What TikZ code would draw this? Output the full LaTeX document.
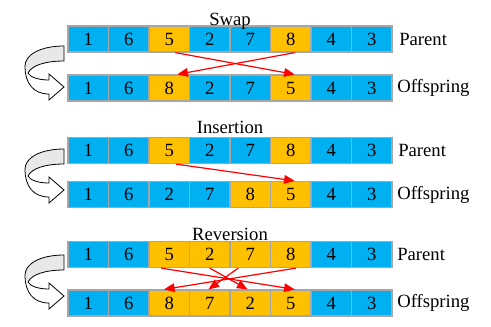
\documentclass[tikz,border=0pt]{standalone}
\usepackage{fontspec}
\setmainfont{Liberation Serif}
\usetikzlibrary{arrows.meta,positioning}
\definecolor{cellblue}{HTML}{00B0F0}
\definecolor{cellgold}{HTML}{FFC000}
\definecolor{cellline}{HTML}{A6A6A6}

\begin{document}
\begin{tikzpicture}[x=0.75pt,y=-0.75pt,
  cell/.style={draw=cellline,line width=0.9pt,minimum width=30.375pt,minimum height=19.5pt,
    inner sep=0pt,font=\rmfamily\fontsize{14}{16}\selectfont},
  lab/.style={inner sep=0pt,font=\rmfamily\fontsize{14}{16}\selectfont},
  mv/.style={red,line width=0.9pt,-{Triangle[length=8pt,width=6.5pt]}},
  ribbon/.pic={
    \fill[gray!18] (64,0) .. controls (40,0) and (25,9) .. (25,20)
      .. controls (25,23) and (26,25) .. (28,27)
      .. controls (32,19) and (46,15) .. (64,15) -- cycle;
    \draw[line width=0.6pt] (64,0) .. controls (40,0) and (25,9) .. (25,20)
      .. controls (25,37) and (33,48) .. (49,48) -- (49,54) -- (64,41) -- (49,28) -- (49,34)
      .. controls (38,34) and (30,31) .. (28,27)
      .. controls (32,19) and (46,15) .. (64,15) -- cycle;
  }]
\useasboundingbox (0,0) rectangle (491,326);

% swap
\foreach \v/\c [count=\i] in {1/cellblue,6/cellblue,5/cellgold,2/cellblue,7/cellblue,8/cellgold,4/cellblue,3/cellblue}
  \node[cell,fill=\c] (sp\i) at ({47.75+40.5*\i},39) {\v};
\foreach \v/\c [count=\i] in {1/cellblue,6/cellblue,8/cellgold,2/cellblue,7/cellblue,5/cellgold,4/cellblue,3/cellblue}
  \node[cell,fill=\c] (so\i) at ({47.75+40.5*\i},88) {\v};
\node[lab,anchor=base] (tsw) at (230,25) {Swap};
\node[lab,anchor=west] (lsp) at (399,39) {Parent};
\node[lab,anchor=west] (lso) at (397,88) {Offspring};
\draw[mv] ([xshift=4.5pt]sp3.south) -- ([xshift=3pt]so6.north);
\draw[mv] ([xshift=3pt]sp6.south) -- ([xshift=6pt]so3.north);
\pic at (0,46) {ribbon};

% insertion
\foreach \v/\c [count=\i] in {1/cellblue,6/cellblue,5/cellgold,2/cellblue,7/cellblue,8/cellgold,4/cellblue,3/cellblue}
  \node[cell,fill=\c] (ip\i) at ({47.75+40.5*\i},150.5) {\v};
\foreach \v/\c [count=\i] in {1/cellblue,6/cellblue,2/cellblue,7/cellblue,8/cellgold,5/cellgold,4/cellblue,3/cellblue}
  \node[cell,fill=\c] (io\i) at ({47.75+40.5*\i},194.5) {\v};
\node[lab,anchor=base] (tin) at (230,133) {Insertion};
\node[lab,anchor=west] (lip) at (398,150.5) {Parent};
\node[lab,anchor=west] (lio) at (397,194.5) {Offspring};
\draw[mv] ([xshift=5pt]ip3.south) -- ([xshift=3pt]io6.north);
\pic at (0,149) {ribbon};

% reversion
\foreach \v/\c [count=\i] in {1/cellblue,6/cellblue,5/cellgold,2/cellgold,7/cellgold,8/cellgold,4/cellblue,3/cellblue}
  \node[cell,fill=\c] (rp\i) at ({47.75+40.5*\i},254.5) {\v};
\foreach \v/\c [count=\i] in {1/cellblue,6/cellblue,8/cellgold,7/cellgold,2/cellgold,5/cellgold,4/cellblue,3/cellblue}
  \node[cell,fill=\c] (ro\i) at ({47.75+40.5*\i},303) {\v};
\node[lab,anchor=base] (trv) at (230,240) {Reversion};
\node[lab,anchor=west] (lrp) at (397,254.5) {Parent};
\node[lab,anchor=west] (lro) at (397,303) {Offspring};
\draw[mv] ([xshift=-6pt]rp3.south) -- ([xshift=3pt]ro6.north);
\draw[mv] (rp4.south) -- ([xshift=-2pt]ro5.north);
\draw[mv] ([xshift=-9pt]rp5.south) -- ([xshift=-1pt]ro4.north);
\draw[mv] ([xshift=4pt]rp6.south) -- ([xshift=-4pt]ro3.north);
\pic at (0,255) {ribbon};
\end{tikzpicture}
\end{document}
